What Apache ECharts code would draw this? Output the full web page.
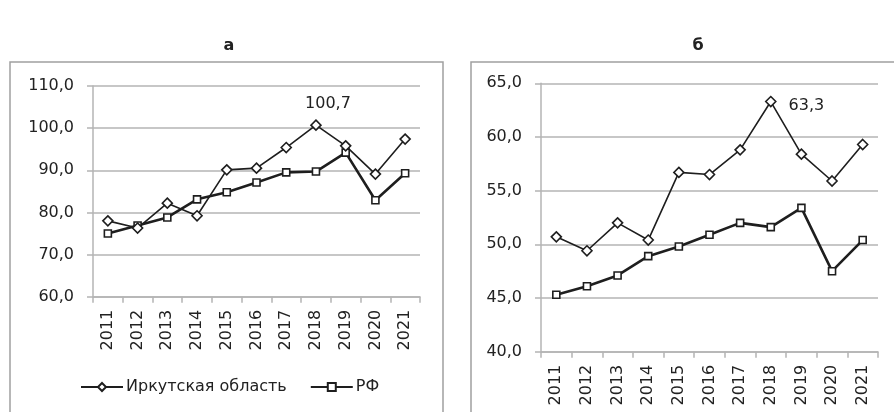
<!DOCTYPE html>
<html>
<head>
<meta charset="utf-8">
<script src="https://cdn.jsdelivr.net/npm/echarts@6/dist/echarts.min.js"></script>
<style>
  html, body { margin: 0; padding: 0; background: #fff; }
  #chart { width: 894px; height: 412px; }
</style>
</head>
<body>
<div id="chart"></div>
<script>
// годы и значения
var years = ['2011', '2012', '2013', '2014', '2015', '2016', '2017', '2018', '2019', '2020', '2021'];

// панель а
var irkA = [78.0, 76.3, 82.2, 79.2, 90.1, 90.5, 95.4, 100.7, 95.8, 89.1, 97.4];
var rfA  = [75.0, 76.9, 78.8, 83.1, 84.8, 87.1, 89.5, 89.7, 94.2, 82.9, 89.3];

// панель б
var irkB = [50.7, 49.4, 52.0, 50.4, 56.7, 56.5, 58.8, 63.3, 58.4, 55.9, 59.3];
var rfB  = [45.3, 46.1, 47.1, 48.9, 49.8, 50.9, 52.0, 51.6, 53.4, 47.5, 50.4];

var panelTitles = ['а', 'б'];
var seriesNames = ['Иркутская область', 'РФ'];

var FONT = 'DejaVu Sans';
var ink = '#1e1e1e';
var grey = '#b4b4b4';

function comma(v) { return v.toFixed(1).replace('.', ','); }

function xAxisFor(idx) {
  return {
    type: 'category', gridIndex: idx, data: years, boundaryGap: true,
    axisLine: { lineStyle: { color: grey, width: 1.5 } },
    axisTick: { show: true, length: 6, lineStyle: { color: grey, width: 1.5 } },
    axisLabel: { rotate: 90, margin: 13, color: '#222', fontFamily: FONT, fontSize: 16 }
  };
}
function yAxisFor(idx, min, max) {
  return {
    type: 'value', gridIndex: idx, min: min, max: max, interval: idx === 0 ? 10 : 5,
    axisLine: { show: true, lineStyle: { color: grey, width: 1.5 } },
    axisTick: { show: true, length: 6, lineStyle: { color: grey, width: 1.5 } },
    splitLine: { lineStyle: { color: grey, width: 1.5 } },
    axisLabel: { margin: 19, color: '#222', fontFamily: FONT, fontSize: 16, formatter: comma }
  };
}

// отметка максимума только у 2018 года
function peakLabel(arr, opts) {
  return arr.map(function (v, i) {
    if (years[i] !== '2018') return v;
    return { value: v, label: Object.assign({ show: true, color: '#222', fontFamily: FONT, fontSize: 16, formatter: function (p) { return comma(p.value); } }, opts) };
  });
}

function irkSeries(idx, data) {
  return {
    name: seriesNames[0], type: 'line', xAxisIndex: idx, yAxisIndex: idx, data: data,
    symbol: 'diamond', symbolSize: 10, showAllSymbol: true,
    lineStyle: { color: ink, width: 1.6 },
    itemStyle: { color: '#fff', borderColor: ink, borderWidth: 1.6 },
    z: 3
  };
}
function rfSeries(idx, data) {
  return {
    name: seriesNames[1], type: 'line', xAxisIndex: idx, yAxisIndex: idx, data: data,
    symbol: 'rect', symbolSize: 7, showAllSymbol: true,
    lineStyle: { color: ink, width: 2.6 },
    itemStyle: { color: '#fff', borderColor: ink, borderWidth: 1.6 },
    z: 2
  };
}

var chart = echarts.init(document.getElementById('chart'), null, { renderer: 'canvas' });
chart.setOption({
  backgroundColor: '#fff',
  animation: false,
  title: [
    { text: panelTitles[0], left: 224, top: 33, textAlign: 'center', textStyle: { fontFamily: FONT, fontSize: 16, fontWeight: 'bold', color: '#222' } },
    { text: panelTitles[1], left: 693, top: 33, textAlign: 'center', textStyle: { fontFamily: FONT, fontSize: 16, fontWeight: 'bold', color: '#222' } }
  ],
  graphic: [
    { type: 'rect', shape: { x: 10, y: 62, width: 433, height: 360 }, style: { fill: 'none', stroke: '#a0a0a0', lineWidth: 1.5 }, silent: true },
    { type: 'polyline', shape: { points: [[471, 420], [471, 62], [900, 62]] }, style: { fill: 'none', stroke: '#a0a0a0', lineWidth: 1.5 }, silent: true }
  ],
  legend: {
    data: seriesNames, left: 75, top: 374, itemWidth: 42, itemHeight: 10, itemGap: 23,
    textStyle: { fontFamily: FONT, fontSize: 16, color: '#222', padding: [0, 0, 0, -2] }
  },
  grid: [
    { left: 93, top: 86, width: 327, height: 210.7 },
    { left: 541, top: 83.3, width: 337, height: 268.4 }
  ],
  xAxis: [xAxisFor(0), xAxisFor(1)],
  yAxis: [yAxisFor(0, 60, 110), yAxisFor(1, 40, 65)],
  series: [
    irkSeries(0, peakLabel(irkA, { position: 'top', offset: [12, -3] })),
    rfSeries(0, rfA),
    irkSeries(1, peakLabel(irkB, { position: 'right', distance: 12, offset: [0, 4] })),
    rfSeries(1, rfB)
  ]
});
</script>
</body>
</html>
